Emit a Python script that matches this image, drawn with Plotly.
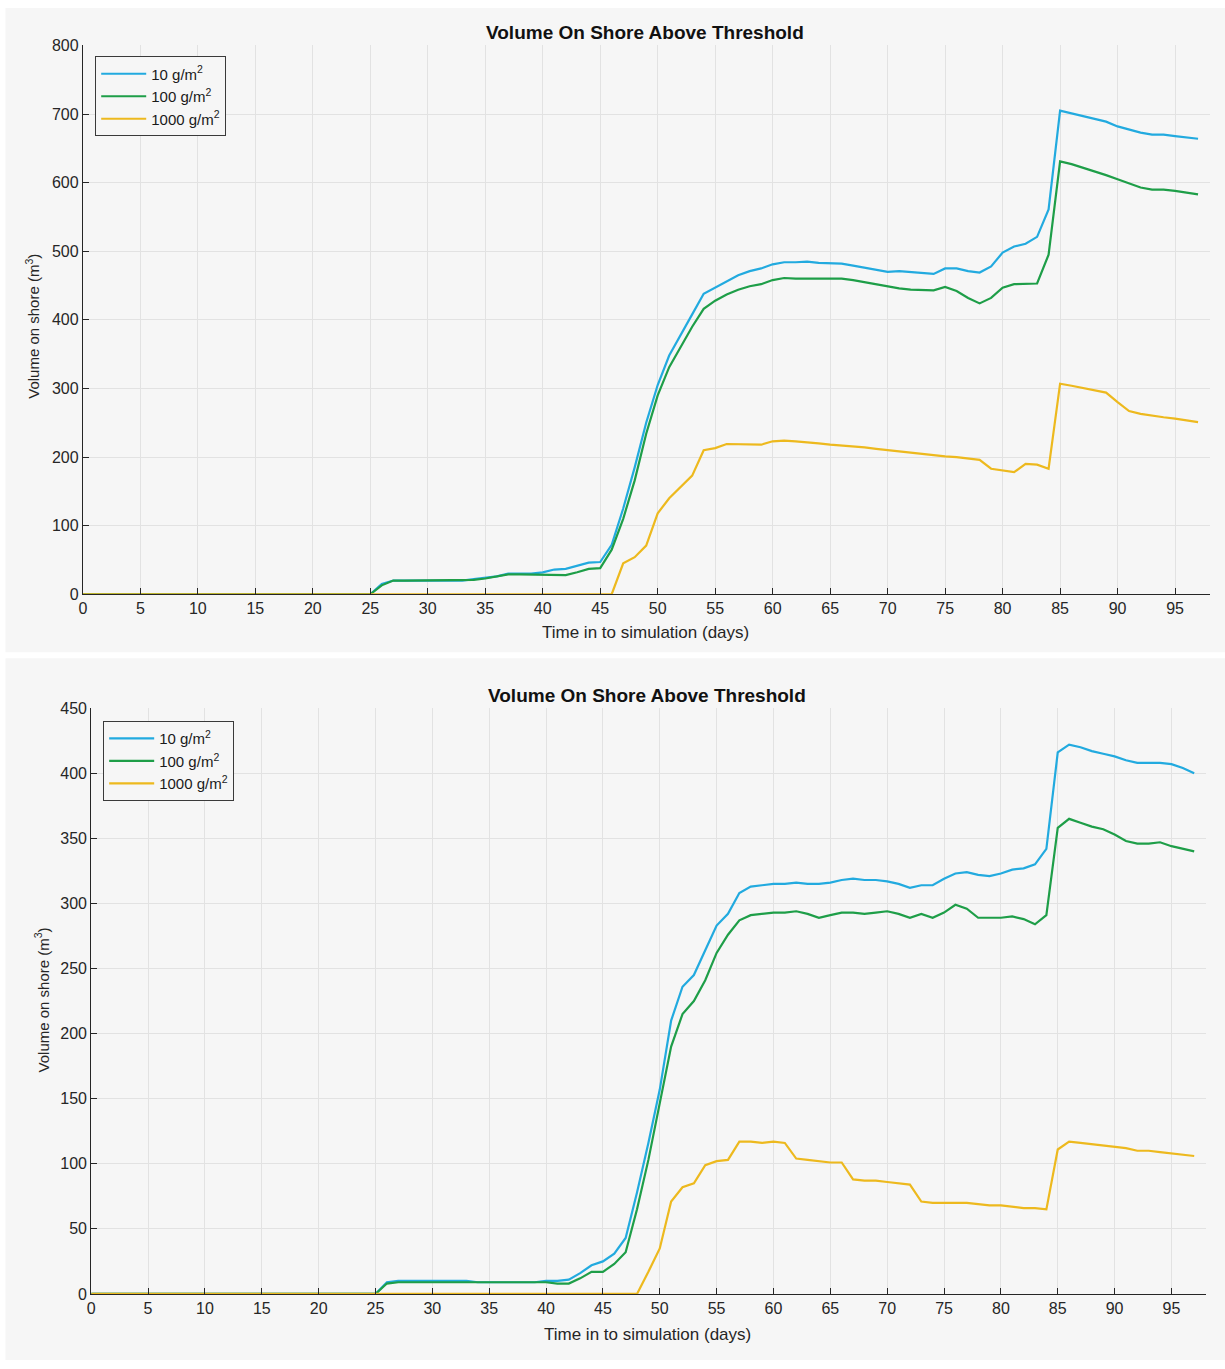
import plotly.graph_objects as go

# ---------------- data ----------------
DAYS = [0] + list(range(25, 98))

TOP_10 = [0,
    0, 15, 20, 20, 20, 20, 20, 20, 20, 22,
    24, 26, 30, 30, 30, 32, 36, 37, 41, 46,
    47, 72, 125, 185, 250, 305, 348, 377, 408, 438,
    447, 457, 465, 471, 475, 481, 484, 484, 485, 483,
    482, 482, 479, 476, 473, 470, 471, 470, 469, 467,
    475, 475, 471, 469, 478, 498, 507, 511, 521, 561,
    705, 701, 696, 692, 689, 682, 677, 673, 670, 670,
    668, 666, 664]
TOP_100 = [0,
    0, 13, 20, 20, 20, 20, 20, 20, 20, 21,
    23, 26, 29, 29, 29, 28, 28, 28, 32, 37,
    38, 65, 110, 166, 234, 290, 331, 360, 390, 416,
    428, 437, 444, 449, 452, 458, 461, 460, 460, 459,
    459, 460, 458, 455, 452, 448, 446, 444, 443, 443,
    448, 442, 432, 424, 432, 447, 452, 452, 453, 495,
    631, 627, 622, 616, 611, 605, 599, 593, 590, 590,
    588, 586, 583]
TOP_1000 = [0,
    0, 0, 0, 0, 0, 0, 0, 0, 0, 0,
    0, 0, 0, 0, 0, 0, 0, 0, 0, 0,
    0, 0, 45, 54, 71, 118, 140, 156, 173, 210,
    213, 219, 219, 218, 218, 223, 224, 223, 222, 220,
    218, 217, 215, 214, 212, 210, 208, 207, 205, 203,
    201, 200, 198, 196, 183, 181, 178, 190, 189, 183,
    307, 304, 301, 298, 294, 280, 267, 263, 260, 258,
    256, 253, 251]

BOT_10 = [0,
    0, 9, 10, 10, 10, 10, 10, 10, 10, 9,
    9, 9, 9, 9, 9, 10, 10, 11, 16, 22,
    25, 31, 43, 78, 116, 157, 210, 236, 245, 264,
    283, 292, 308, 313, 314, 315, 315, 316, 315, 315,
    316, 318, 319, 318, 318, 317, 315, 312, 314, 314,
    319, 323, 324, 322, 321, 323, 326, 327, 330, 342,
    416, 422, 420, 417, 415, 413, 410, 408, 408, 408,
    407, 404, 400]
BOT_100 = [0,
    0, 8, 9, 9, 9, 9, 9, 9, 9, 9,
    9, 9, 9, 9, 9, 9, 8, 8, 12, 17,
    17, 23, 32, 65, 103, 147, 190, 215, 225, 241,
    262, 276, 287, 291, 292, 293, 293, 294, 292, 289,
    291, 293, 293, 292, 293, 294, 292, 289, 292, 289,
    293, 299, 296, 289, 289, 289, 290, 288, 284, 291,
    358, 365, 362, 359, 357, 353, 348, 346, 346, 347,
    344, 342, 340]
BOT_1000 = [0,
    0, 0, 0, 0, 0, 0, 0, 0, 0, 0,
    0, 0, 0, 0, 0, 0, 0, 0, 0, 0,
    0, 0, 0, 0, 17, 35, 71, 82, 85, 99,
    102, 103, 117, 117, 116, 117, 116, 104, 103, 102,
    101, 101, 88, 87, 87, 86, 85, 84, 71, 70,
    70, 70, 70, 69, 68, 68, 67, 66, 66, 65,
    111, 117, 116, 115, 114, 113, 112, 110, 110, 109,
    108, 107, 106]

SERIES_NAMES = ["10 g/m<sup>2</sup>", "100 g/m<sup>2</sup>", "1000 g/m<sup>2</sup>"]
COLORS = ["#22AADF", "#1E9E48", "#EDB91E"]
TITLE = "Volume On Shore Above Threshold"
XTITLE = "Time in to simulation (days)"
YTITLE = "Volume on shore (m<sup>3</sup>)"
X_TICKS = list(range(0, 100, 5))

# ---------------- layout helpers ----------------
W, H = 1225, 1369
FONT = "Liberation Sans, Arial, Helvetica, sans-serif"
PANEL = "#f6f6f6"
AXC = "#262626"
GRID = "#e2e2e2"

# measured correction between intended and captured pixel positions
OFF_X, OFF_Y, SCALE_Y = 3.5, 7.5, 0.988


def px_x(p):
    return min(max((p - OFF_X) / W, 0), 1)


def px_y(p):
    return min(max(1 - ((p - OFF_Y) / SCALE_Y) / H, 0), 1)


fig = go.Figure()

for name, ys, c in zip(SERIES_NAMES, [TOP_10, TOP_100, TOP_1000], COLORS):
    fig.add_trace(go.Scatter(x=DAYS, y=ys, mode="lines", name=name,
                             line=dict(color=c, width=2.2),
                             xaxis="x", yaxis="y", legend="legend", cliponaxis=False))
for name, ys, c in zip(SERIES_NAMES, [BOT_10, BOT_100, BOT_1000], COLORS):
    fig.add_trace(go.Scatter(x=DAYS, y=ys, mode="lines", name=name,
                             line=dict(color=c, width=2.2),
                             xaxis="x2", yaxis="y2", legend="legend2", cliponaxis=False))

axis_common = dict(showline=True, linecolor=AXC, linewidth=1, mirror=False,
                   ticks="inside", ticklen=6, tickcolor=AXC, tickwidth=1,
                   showgrid=True, gridcolor=GRID, gridwidth=1, zeroline=False,
                   tickfont=dict(family=FONT, size=16, color=AXC))

legend_common = dict(xanchor="left", yanchor="top",
                     bgcolor=PANEL, bordercolor="#3a3a3a", borderwidth=1,
                     font=dict(family=FONT, size=15, color="#1a1a1a"),
                     tracegroupgap=0, itemwidth=45)

fig.update_layout(
    width=W, height=H,
    margin=dict(l=0, r=0, t=0, b=0),
    paper_bgcolor="white", plot_bgcolor=PANEL,
    showlegend=True,
    xaxis=dict(domain=[px_x(82.6), px_x(1213)], range=[0, 98], tickvals=X_TICKS,
               anchor="y", **axis_common),
    yaxis=dict(domain=[px_y(594), px_y(45)], range=[0, 800], dtick=100,
               anchor="x", **axis_common),
    xaxis2=dict(domain=[px_x(91), px_x(1209)], range=[0, 98], tickvals=X_TICKS,
                anchor="y2", **axis_common),
    yaxis2=dict(domain=[px_y(1294), px_y(708)], range=[0, 450], dtick=50,
                anchor="x2", **axis_common),
    legend=dict(x=px_x(95), y=px_y(56), **legend_common),
    legend2=dict(x=px_x(103), y=px_y(721), **legend_common),
    shapes=[
        dict(type="rect", xref="paper", yref="paper", x0=px_x(5), x1=1,
             y0=px_y(652), y1=1, fillcolor=PANEL, line=dict(width=0), layer="below"),
        dict(type="rect", xref="paper", yref="paper", x0=px_x(5), x1=1,
             y0=0, y1=px_y(658), fillcolor=PANEL, line=dict(width=0), layer="below"),
    ],
)


def label(text, x, y, size, angle=0, bold=False, color=AXC):
    return dict(text=("<b>%s</b>" % text) if bold else text,
                x=px_x(x), y=px_y(y), xref="paper", yref="paper",
                xanchor="center", yanchor="middle", showarrow=False, textangle=angle,
                font=dict(family=FONT, size=size, color=color))


ann = [
    label(TITLE, 647, 32, 19, bold=True, color="#111"),
    label(TITLE, 649, 695, 19, bold=True, color="#111"),
    label(XTITLE, 647, 632, 17),
    label(XTITLE, 649, 1335, 17),
    label(YTITLE, 32, 326, 15, angle=-90),
    label(YTITLE, 41, 1000, 15, angle=-90),
]
fig.update_layout(annotations=ann)

fig.write_html(
    "out.html",
    config={"displayModeBar": False},
    post_script="document.body.style.margin='0';document.body.style.overflow='hidden';",
)
